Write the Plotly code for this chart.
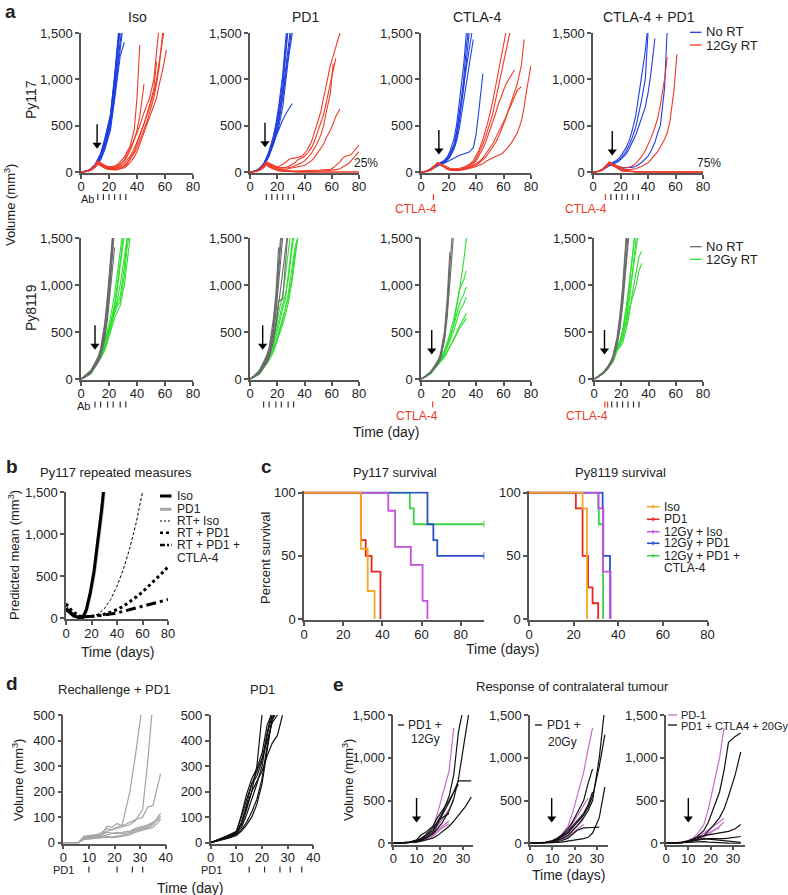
import plotly.graph_objects as go

W, H = 788, 895
FONT = "Liberation Sans, Arial, Helvetica, sans-serif"

# ============================ DATA ============================
# ---- panel a, Py117 (top row) ----
a_days_py117 = [0, 4, 7, 10, 12, 14, 17, 19, 21, 24, 26, 28, 31, 33, 35, 38, 40, 42, 45, 47, 49,
                52, 54, 56, 59, 61, 63, 66, 68, 70, 73, 75, 77, 80]

iso117_noRT = [
    [0, 10, 30, 70, 120, 180, 320, 430, 560, 950, 1300, 1600],
    [0, 12, 35, 80, 140, 200, 360, 480, 620, 1050, 1400, 1700],
    [0, 8, 25, 60, 100, 150, 280, 380, 500, 880, 1180, 1450, 1800],
    [0, 9, 28, 65, 110, 170, 300, 420, 540, 900, 1250, 1550],
    [0, 6, 20, 55, 95, 140, 260, 370, 480, 820, 1100, 1350, 1700],
    [0, 11, 32, 75, 130, 190, 340, 460, 600, 1000, 1350, 1650],
    [0, 7, 22, 50, 90, 130, 240, 340, 450, 780, 1050, 1250, 1400],
    [0, 10, 30, 70, 125, 175, 310, 440, 580, 1000, 1380, 1600],
]
iso117_RT = [
    [0, 8, 30, 70, 110, 90, 70, 55, 55, 65, 80, 110, 160, 220, 280, 450, 800, 1370],
    [0, 6, 25, 60, 100, 85, 60, 50, 45, 50, 60, 80, 120, 170, 230, 350, 450, 600, 950],
    [0, 5, 20, 55, 95, 80, 55, 40, 35, 40, 50, 65, 90, 130, 170, 250, 320, 400, 520, 620, 720, 900, 1190],
    [0, 5, 22, 55, 90, 70, 45, 30, 25, 25, 30, 40, 60, 90, 130, 200, 260, 340, 450, 540, 640, 800, 950, 1150, 1600],
    [0, 4, 18, 50, 85, 65, 40, 30, 25, 22, 25, 30, 45, 70, 100, 160, 220, 300, 420, 520, 600, 700, 800, 950, 1150, 1320],
    [0, 6, 24, 60, 105, 85, 55, 40, 35, 35, 40, 50, 70, 100, 150, 220, 300, 400, 520, 600, 700, 850, 1000, 1200, 1450, 1700],
    [0, 7, 28, 65, 120, 100, 70, 60, 55, 60, 70, 90, 130, 200, 250, 350, 420, 500, 640, 720, 800, 1000, 1250, 1600],
]
pd1117_noRT = [
    [0, 10, 35, 80, 140, 200, 330, 450, 600, 900, 1200, 1550],
    [0, 12, 40, 90, 150, 230, 380, 520, 700, 1050, 1400, 1700],
    [0, 8, 30, 70, 120, 180, 300, 400, 520, 800, 1050, 1300, 1600],
    [0, 9, 33, 75, 130, 190, 320, 430, 560, 850, 1100, 1350, 1700],
    [0, 11, 38, 85, 150, 210, 300, 380, 460, 560, 620, 670, 740],
    [0, 10, 32, 80, 135, 200, 350, 480, 650, 1000, 1300, 1600],
    [0, 7, 28, 65, 115, 170, 290, 380, 480, 700, 950, 1200, 1500, 1700],
]
pd1117_RT = [
    [0, 8, 30, 70, 110, 95, 70, 60, 60, 80, 100, 130, 150, 150, 155, 170, 200, 240, 320, 420, 520, 650, 800, 950, 1150, 1250, 1350, 1500],
    [0, 7, 25, 65, 100, 85, 60, 50, 45, 45, 50, 60, 80, 100, 130, 150, 170, 200, 260, 320, 400, 520, 620, 750, 950, 1100, 1230],
    [0, 6, 22, 60, 95, 80, 55, 45, 40, 40, 40, 45, 55, 65, 80, 100, 120, 150, 200, 250, 300, 400, 500, 650, 850, 1170],
    [0, 6, 20, 55, 90, 70, 45, 35, 30, 30, 30, 35, 40, 45, 50, 60, 70, 90, 120, 150, 190, 250, 300, 370, 450, 520, 600, 680],
    [0, 5, 20, 50, 85, 60, 40, 30, 25, 20, 15, 12, 10, 10, 10, 10, 10, 12, 14, 16, 18, 20, 22, 25, 30, 45, 70, 110, 150, 170, 180, 200, 240, 290],
    [0, 5, 18, 45, 80, 55, 35, 25, 20, 15, 12, 10, 8, 6, 5, 5, 5, 5, 6, 7, 8, 10, 12, 14, 17, 20, 25, 35, 50, 70, 100, 140, 170, 220],
    [0, 5, 20, 50, 80, 55, 35, 20, 12, 8, 5, 3, 2, 1, 0, 0, 0, 0, 0, 0, 0, 0, 0, 0, 0, 0, 0, 0, 0, 0, 0, 0, 0, 0],
    [0, 6, 25, 55, 95, 70, 45, 30, 20, 12, 8, 5, 3, 2, 1, 1, 0, 0, 0, 0, 0, 0, 0, 0, 0, 0, 0, 0, 0, 0, 0, 0, 0, 0],
]
ctla117_noRT = [
    [0, 8, 30, 60, 80, 90, 110, 140, 180, 280, 420, 620, 1000, 1350, 1600],
    [0, 6, 25, 55, 75, 85, 100, 125, 160, 250, 370, 560, 900, 1200, 1500],
    [0, 10, 35, 70, 90, 100, 120, 150, 200, 300, 450, 650, 950, 1150, 1350, 1600],
    [0, 7, 28, 60, 85, 95, 115, 140, 170, 250, 340, 480, 760, 950, 1150, 1430],
    [0, 5, 22, 50, 70, 80, 95, 110, 130, 150, 165, 180, 195, 205, 215, 260, 400, 650, 1060],
    [0, 9, 32, 65, 88, 100, 125, 160, 220, 360, 520, 750, 1150, 1500],
]
ctla117_RT = [
    [0, 8, 30, 70, 100, 90, 70, 50, 40, 35, 35, 40, 50, 65, 80, 120, 170, 230, 350, 450, 560, 750, 900, 1050, 1300, 1450, 1600],
    [0, 7, 25, 60, 95, 85, 60, 40, 30, 25, 25, 30, 40, 55, 70, 100, 140, 200, 300, 380, 470, 620, 760, 900, 1100, 1250, 1400, 1600],
    [0, 6, 22, 55, 90, 80, 55, 35, 25, 20, 20, 25, 35, 45, 60, 90, 120, 170, 250, 320, 400, 520, 620, 720, 850, 920, 980, 1050, 1100],
    [0, 5, 20, 50, 85, 75, 50, 30, 20, 15, 15, 18, 25, 35, 45, 60, 75, 95, 130, 160, 200, 260, 310, 370, 470, 550, 640, 780, 880, 950, 1150, 1430],
    [0, 6, 22, 55, 90, 80, 55, 35, 25, 20, 18, 20, 25, 30, 40, 50, 60, 70, 90, 110, 130, 150, 165, 175, 200, 230, 260, 320, 370, 420, 550, 700, 900, 1150],
    [0, 7, 25, 60, 95, 85, 60, 40, 30, 25, 22, 25, 30, 40, 50, 70, 90, 110, 150, 190, 240, 300, 360, 420, 500, 570, 640, 740, 820, 880, 920],
]
combo117_noRT = [
    [0, 8, 30, 60, 80, 90, 110, 130, 160, 220, 280, 350, 480, 600, 750, 1000, 1500],
    [0, 7, 25, 55, 75, 85, 100, 120, 145, 190, 240, 300, 400, 480, 560, 700, 850, 1050, 1440],
    [0, 6, 22, 50, 70, 70, 60, 55, 50, 45, 45, 50, 60, 80, 100, 140, 170, 220, 320, 420, 500, 900, 1550],
    [0, 8, 30, 65, 85, 80, 70, 55, 40, 20, 10, 5, 2, 0, 0, 0, 0, 0],
    [0, 9, 32, 62, 85, 100, 125, 150, 190, 260, 330, 420, 600, 780, 1000, 1300, 1600],
]
combo117_RT = [
    [0, 8, 30, 70, 100, 90, 70, 55, 45, 45, 50, 60, 90, 120, 160, 230, 290, 360, 480, 580, 720, 1000, 1240],
    [0, 7, 25, 60, 95, 80, 55, 40, 30, 25, 25, 28, 35, 45, 60, 80, 100, 130, 180, 220, 270, 350, 420, 550, 900, 1270],
    [0, 8, 30, 75, 110, 90, 60, 30, 15, 8, 5, 3, 2, 1, 0, 0, 0, 0, 0, 0, 0, 0, 0, 0, 0, 0, 0, 0, 0, 0, 0, 0, 0, 0],
    [0, 6, 25, 60, 95, 75, 50, 25, 12, 6, 4, 2, 1, 1, 0, 0, 0, 0, 0, 0, 0, 0, 0, 0, 0, 0, 0, 0, 0, 0, 0, 0, 0, 0],
    [0, 7, 28, 70, 105, 85, 65, 40, 25, 15, 10, 6, 4, 2, 1, 0, 0, 0, 0, 0, 0, 0, 0, 0, 0, 0, 0, 0, 0, 0, 0, 0, 0, 0],
    [0, 5, 20, 55, 85, 70, 45, 30, 18, 10, 6, 4, 3, 2, 1, 1, 0, 0, 0, 0, 0, 0, 0, 0, 0, 0, 0, 0, 0, 0, 0, 0, 0, 0],
]

# ---- panel a, Py8119 (bottom row) ----
a_days_py8119 = [0, 3, 7, 10, 12, 14, 17, 19, 21, 24, 26, 28, 31, 33, 35]
iso8119_noRT = [
    [0, 30, 80, 150, 200, 270, 500, 750, 1100, 1700],
    [0, 25, 70, 130, 180, 250, 480, 700, 1050, 1600],
    [0, 35, 90, 170, 230, 320, 600, 900, 1300, 1800],
    [0, 20, 60, 120, 170, 230, 430, 650, 950, 1400],
    [0, 30, 85, 160, 220, 300, 560, 850, 1250, 1750],
    [0, 28, 75, 140, 190, 260, 470, 720, 1080, 1650],
]
iso8119_RT = [
    [0, 30, 80, 170, 220, 280, 400, 520, 650, 900, 1100, 1350, 1700],
    [0, 25, 70, 150, 200, 260, 360, 460, 580, 800, 1000, 1250, 1600],
    [0, 20, 60, 130, 180, 230, 320, 420, 530, 700, 780, 820, 1100, 1400, 1600],
    [0, 28, 75, 160, 210, 270, 380, 480, 600, 750, 800, 880, 1200, 1500],
    [0, 22, 65, 140, 190, 240, 340, 440, 560, 760, 950, 1200, 1550],
    [0, 26, 72, 155, 205, 250, 350, 450, 560, 720, 850, 1000, 1300, 1500],
    [0, 18, 55, 120, 170, 220, 300, 390, 500, 650, 720, 780, 1000, 1250, 1500],
]
pd18119_noRT = [
    [0, 30, 80, 160, 220, 300, 550, 850, 1250, 1800],
    [0, 25, 70, 140, 190, 270, 480, 700, 1000, 1500],
    [0, 35, 95, 180, 240, 330, 620, 900, 1400],
    [0, 22, 65, 130, 180, 250, 430, 600, 830, 850, 1200, 1600],
    [0, 28, 78, 150, 200, 280, 500, 760, 1100, 1700],
    [0, 20, 55, 120, 160, 220, 380, 560, 780, 1100, 1350, 1600],
]
pd18119_RT = [
    [0, 25, 70, 150, 200, 250, 350, 450, 560, 750, 850, 1100, 1450, 1700],
    [0, 20, 60, 130, 170, 220, 300, 380, 470, 620, 750, 900, 1200, 1400, 1500],
    [0, 28, 80, 160, 210, 270, 380, 500, 640, 800, 900, 1050, 1400, 1600],
    [0, 22, 65, 140, 180, 230, 320, 400, 500, 650, 740, 850, 1100, 1350, 1480],
    [0, 30, 85, 170, 230, 300, 420, 540, 700, 900, 1100, 1400, 1700],
    [0, 18, 55, 120, 160, 200, 280, 360, 450, 580, 680, 800, 1050, 1300, 1500],
]
ctla8119_noRT = [
    [0, 25, 70, 120, 170, 230, 450, 750, 1200, 1800],
    [0, 20, 60, 110, 155, 210, 400, 650, 1050, 1600],
    [0, 30, 80, 140, 190, 260, 500, 850, 1350],
    [0, 22, 65, 115, 160, 220, 420, 700, 1230],
]
ctla8119_RT = [
    [0, 25, 70, 130, 170, 220, 300, 380, 480, 650, 800, 950, 1250, 1500],
    [0, 20, 60, 120, 160, 200, 280, 350, 430, 600, 800, 950, 1050, 1150],
    [0, 22, 65, 125, 165, 210, 290, 360, 440, 580, 700, 800, 900, 980],
    [0, 18, 55, 110, 150, 190, 260, 330, 400, 520, 620, 720, 800, 870],
    [0, 20, 58, 115, 150, 180, 230, 280, 340, 430, 500, 560, 640, 700],
    [0, 24, 68, 128, 160, 190, 240, 290, 350, 420, 480, 540, 600, 650],
]
combo8119_noRT = [
    [0, 25, 70, 120, 170, 240, 420, 620, 900, 1500],
    [0, 22, 65, 110, 160, 220, 380, 560, 820, 1400, 1700],
    [0, 28, 75, 130, 180, 250, 450, 680, 980, 1600],
    [0, 20, 60, 105, 150, 210, 360, 530, 780, 1300, 1600],
]
combo8119_RT = [
    [0, 25, 70, 130, 160, 200, 330, 380, 480, 750, 1000, 1300, 1700],
    [0, 22, 65, 120, 150, 190, 320, 360, 420, 650, 850, 1100, 1500],
    [0, 28, 75, 140, 170, 210, 350, 400, 520, 800, 1050, 1350, 1650],
    [0, 20, 60, 110, 140, 180, 300, 340, 380, 550, 700, 900, 1150, 1300, 1360],
    [0, 24, 68, 125, 155, 195, 330, 370, 450, 600, 750, 850, 1000, 1150, 1230],
    [0, 26, 72, 135, 165, 205, 340, 390, 500, 700, 900, 1150, 1450, 1600],
]

# treatment schedules (days)
rt_day_py117 = [11.5, 11, 13, 14]
rt_day_py8119 = [10, 9.3, 7.8, 7.7]
ab_days_py117 = [12, 16, 20, 24, 28, 32]
ab_days_combo117 = [13, 17, 21, 25, 29, 33]
ctla_day_py117 = [9]
ab_days_py8119 = [10, 14, 19, 23, 28, 32]
ab_days_combo8119 = [13, 17, 21, 25, 29, 33]
ctla_days_py8119 = [8.5]
ctla_days_combo8119 = [8, 10]
pct_free_pd1 = "25%"
pct_free_combo = "75%"

# ---- panel b: predicted means ----
b_days_early = [0, 3, 6, 10, 13, 16, 19, 22, 25, 28, 30]
b_iso = [100, 60, 25, 5, 0, 100, 300, 560, 900, 1300, 1600]
b_pd1 = [120, 70, 30, 8, 0, 90, 280, 530, 860, 1250, 1550]
b_days_rt = [0, 5, 10, 15, 20, 25, 30, 35, 40, 45, 50, 55, 60, 65, 70, 75, 80]
b_rt_iso = [150, 60, 15, 5, 15, 45, 110, 220, 380, 580, 830, 1130, 1500]
b_rt_pd1 = [170, 80, 25, 15, 20, 30, 45, 70, 100, 140, 190, 250, 310, 380, 450, 530, 610]
b_rt_pd1_ctla4 = [110, 50, 15, 15, 20, 25, 35, 45, 60, 80, 100, 120, 140, 160, 180, 200, 220]

# ---- panel c: survival (step curves) ----
c117_iso_t = [0, 29, 32.5, 36];               c117_iso_s = [100, 55.6, 22.2, 0]
c117_pd1_t = [0, 29, 31.5, 34.5, 39];         c117_pd1_s = [100, 62.5, 50, 37.5, 0]
c117_rtiso_t = [0, 43, 46.5, 54.5, 60.5, 63]; c117_rtiso_s = [100, 85.7, 57.1, 42.9, 14.3, 0]
c117_rtpd1_t = [0, 63, 66, 68, 92];           c117_rtpd1_s = [100, 75, 62.5, 50, 50]
c117_rtpc_t = [0, 54, 56, 92];                c117_rtpc_s = [100, 87.5, 75, 75]
c8119_iso_t = [0, 24, 26];                    c8119_iso_s = [100, 87.5, 0]
c8119_pd1_t = [0, 21, 24, 26.5, 28.5, 31];    c8119_pd1_s = [100, 87.5, 50, 25, 12.5, 0]
c8119_rtiso_t = [0, 31.2, 33.2, 36.3];        c8119_rtiso_s = [100, 87.5, 37.5, 0]
c8119_rtpd1_t = [0, 33, 33.3, 36.3, 36.5];    c8119_rtpd1_s = [100, 87.5, 50, 37.5, 0]
c8119_rtpc_t = [0, 31, 31.3, 33.2];           c8119_rtpc_s = [100, 87.5, 75, 0]
c_legend = ["Iso", "PD1", "12Gy + Iso", "12Gy + PD1", "12Gy + PD1 +"]

# ---- panel d ----
d_days_rech = [0, 6, 8, 10, 13, 15, 17, 19, 21, 23, 26, 28, 31, 33, 35, 38]
d_rechallenge = [
    [0, 0, 20, 25, 30, 40, 55, 50, 60, 70, 200, 330, 550],
    [0, 0, 25, 28, 30, 35, 45, 50, 55, 60, 70, 85, 130, 320, 550],
    [0, 0, 22, 25, 28, 30, 65, 60, 75, 65, 80, 90, 100, 140, 145, 270],
    [0, 0, 18, 20, 22, 25, 30, 35, 40, 35, 40, 50, 60, 65, 75, 115],
    [0, 0, 15, 18, 20, 20, 25, 22, 25, 30, 35, 45, 55, 60, 70, 105],
    [0, 0, 20, 22, 25, 30, 40, 38, 35, 40, 45, 55, 65, 70, 80, 95],
    [0, 0, 12, 15, 18, 20, 22, 20, 22, 25, 30, 40, 50, 55, 60, 90],
]
d_days_pd1 = [0, 3, 7, 10, 12, 14, 16, 18, 20, 22, 24, 26, 28]
d_pd1 = [
    [0, 10, 25, 40, 70, 130, 200, 300, 500],
    [0, 12, 30, 45, 100, 170, 230, 260, 320, 430, 520],
    [0, 8, 20, 35, 60, 110, 170, 230, 300, 420, 500],
    [0, 10, 22, 30, 50, 80, 120, 170, 250, 380, 480, 520],
    [0, 9, 24, 38, 80, 140, 200, 240, 280, 340, 390, 420, 500],
    [0, 11, 28, 42, 110, 190, 250, 290, 350, 460, 510],
    [0, 7, 18, 28, 45, 70, 100, 150, 230, 360, 490, 520],
    [0, 10, 26, 40, 75, 150, 230, 280, 330, 400, 470, 500],
]
d_pd1_dose_rech = [10, 21, 27, 31]
d_pd1_dose_pd1 = [15, 21, 27, 31, 35.5]

# ---- panel e ----
e_days = [0, 3, 7, 10, 12, 14, 17, 19, 21, 24, 26, 28, 31, 33.5]
e1_treated = [
    [0, 5, 15, 30, 50, 90, 150, 250, 350, 550, 800, 1300, 1700],
    [0, 3, 10, 20, 35, 60, 110, 170, 240, 380, 520, 750, 1350, 1700],
    [0, 4, 12, 40, 100, 130, 200, 300, 380, 500, 600, 730, 730, 730],
    [0, 2, 8, 15, 25, 40, 60, 90, 130, 200, 260, 330, 430, 540],
    [0, 3, 12, 25, 45, 70, 130, 220, 330, 480, 600, 690],
    [0, 4, 15, 35, 60, 100, 180, 250, 300, 350],
]
e1_pd1 = [
    [0, 5, 15, 30, 50, 80, 180, 350, 550, 850, 1350],
    [0, 4, 12, 25, 40, 60, 120, 200, 280, 400, 500],
    [0, 3, 10, 20, 30, 45, 90, 150, 200, 260],
    [0, 3, 8, 18, 28, 40, 80, 130, 180, 230],
]
e2_treated = [
    [0, 2, 8, 18, 30, 50, 90, 140, 200, 300, 380, 500, 1000, 1600],
    [0, 3, 10, 22, 40, 70, 120, 180, 240, 330, 420, 550, 900, 1270],
    [0, 2, 6, 12, 20, 30, 60, 100, 150, 180, 180, 185, 190],
    [0, 4, 12, 30, 55, 90, 170, 250, 350, 500, 700, 870],
    [0, 1, 3, 6, 10, 15, 25, 35, 45, 55, 70, 120, 300, 660],
    [0, 3, 10, 25, 45, 80, 140, 200, 260, 350, 450, 600],
]
e2_pd1 = [
    [0, 5, 15, 35, 60, 100, 200, 350, 550, 830, 1100, 1350],
    [0, 4, 12, 28, 45, 70, 140, 230, 320, 450, 530],
    [0, 3, 10, 22, 35, 55, 100, 150, 200, 280],
    [0, 3, 8, 18, 28, 40, 80, 120, 160, 220],
]
e3_treated = [
    [0, 3, 10, 25, 45, 80, 150, 250, 400, 600, 850, 1180, 1250, 1290],
    [0, 2, 8, 18, 30, 50, 90, 140, 200, 300, 400, 550, 800, 1070],
    [0, 3, 10, 30, 50, 70, 90, 100, 110, 120, 130, 140, 170, 220],
    [0, 2, 8, 20, 30, 40, 50, 55, 55, 50, 55, 60, 70, 80],
    [0, 2, 8, 20, 35, 45, 55, 50, 45, 35, 25, 20, 15, 10],
    [0, 1, 5, 10, 15, 18, 20, 15, 10, 8, 5, 3, 2, 1],
]
e3_pd1 = [
    [0, 5, 15, 35, 60, 110, 220, 400, 650, 1000, 1350],
    [0, 4, 12, 28, 45, 70, 120, 160, 200, 260, 290],
    [0, 3, 10, 22, 35, 55, 90, 120, 150, 180],
    [0, 3, 8, 18, 28, 40, 70, 100, 140, 200, 250],
]
e_rt_day = [10, 9.7, 10]

# ============================ STYLE ============================
BLUE = "#1f3fe0"
RED = "#f03a26"
GRAY = "#6a6a6a"
GREEN = "#2fe02f"
C_OR, C_RD, C_MG, C_BL, C_GN = "#f5a623", "#e8281e", "#c64fe0", "#2a52cc", "#3fcf4a"
E_MAG = "#c96cc9"
AX = "#555555"
TXT = "#222222"

fig = go.Figure()
layout = {}
annotations = []
shapes = []
axinfo = {}


def xa(k):
    return "x" if k == 1 else f"x{k}"


def ya(k):
    return "y" if k == 1 else f"y{k}"


def add_group(k, days, groups, color, width=1.1, dash=None):
    for vals in groups:
        fig.add_trace(go.Scatter(x=days[:len(vals)], y=vals, mode="lines",
                                 line=dict(color=color, width=width, dash=dash),
                                 xaxis=xa(k), yaxis=ya(k), showlegend=False, hoverinfo="skip"))


def set_axes(k, xpx, xrange, xtick, ypx, yrange, ytick, yfmt=""):
    common = dict(showline=True, linecolor=AX, linewidth=1.5, ticks="outside", ticklen=4,
                  tickwidth=1.5, tickcolor=AX, showgrid=False, zeroline=False, automargin=False,
                  tickfont=dict(family=FONT, size=13, color=TXT), fixedrange=True)
    layout["xaxis" if k == 1 else f"xaxis{k}"] = dict(
        domain=[xpx[0] / W, xpx[1] / W], range=xrange, tickvals=xtick, anchor=ya(k),
        ticklabelstandoff=-3, **common)
    layout["yaxis" if k == 1 else f"yaxis{k}"] = dict(
        domain=[1 - ypx[1] / H, 1 - ypx[0] / H], range=yrange, tickvals=ytick, anchor=xa(k),
        tickformat=yfmt, **common)
    axinfo[k] = (yrange[1] - yrange[0]) / (ypx[1] - ypx[0])  # data units per pixel (y)


def txt(x, y, s, size=13, color=TXT, xanchor="center", angle=0, bold=False):
    if bold:
        s = f"<b>{s}</b>"
    annotations.append(dict(x=x / W, y=1 - y / H, xref="paper", yref="paper", text=s,
                            showarrow=False, xanchor=xanchor, yanchor="middle", textangle=angle,
                            font=dict(family=FONT, size=size, color=color)))


def pline(x0, y0, x1, y1, color, width=1.5, dash=None):
    shapes.append(dict(type="line", xref="paper", yref="paper", x0=x0 / W, x1=x1 / W,
                       y0=1 - y0 / H, y1=1 - y1 / H, line=dict(color=color, width=width, dash=dash)))


def dose_ticks(k, days, ytop, color="#333", width=1.2):
    for d in days:
        shapes.append(dict(type="line", xref=xa(k), yref="paper", x0=d, x1=d,
                           y0=1 - ytop / H, y1=1 - (ytop + 6) / H, line=dict(color=color, width=width)))


def arrow(k, day, tip):
    u = axinfo[k]
    fig.add_trace(go.Scatter(x=[day, day], y=[tip + 24 * u, tip + 5 * u], mode="lines",
                             line=dict(color="black", width=1.4), xaxis=xa(k), yaxis=ya(k),
                             showlegend=False, hoverinfo="skip"))
    fig.add_trace(go.Scatter(x=[day], y=[tip + 3.5 * u], mode="markers",
                             marker=dict(symbol="triangle-down", size=8, color="black"),
                             xaxis=xa(k), yaxis=ya(k), showlegend=False, hoverinfo="skip"))


# ============================ PANEL a ============================
top_x = [(81, 193), (250, 359), (421, 531), (593, 703)]
bot_x = [(81, 193), (250, 359), (421, 531), (594, 703)]
TOP_Y = (33, 173.1)
BOT_Y = (238, 380.1)
yt_a = [0, 500, 1000, 1500]
xt_a = [0, 20, 40, 60, 80]

top_groups = [(iso117_noRT, iso117_RT), (pd1117_noRT, pd1117_RT),
              (ctla117_noRT, ctla117_RT), (combo117_noRT, combo117_RT)]
bot_groups = [(iso8119_noRT, iso8119_RT), (pd18119_noRT, pd18119_RT),
              (ctla8119_noRT, ctla8119_RT), (combo8119_noRT, combo8119_RT)]
top_tips = [256, 273, 194, 183]
bot_tips = [316, 316, 266, 266]

for i in range(4):
    k = i + 1
    set_axes(k, top_x[i], [0, 80], xt_a, TOP_Y, [-12, 1500], yt_a, ",")
    add_group(k, a_days_py117, top_groups[i][0], BLUE)
    add_group(k, a_days_py117, top_groups[i][1], RED)
    arrow(k, rt_day_py117[i], top_tips[i])

    k = i + 5
    set_axes(k, bot_x[i], [0, 80], xt_a, BOT_Y, [-12, 1500], yt_a, ",")
    add_group(k, a_days_py8119, bot_groups[i][1], GREEN)
    add_group(k, a_days_py8119, bot_groups[i][0], GRAY)
    arrow(k, rt_day_py8119[i], bot_tips[i])

titles_a = ["Iso", "PD1", "CTLA-4", "CTLA-4 + PD1"]
for i, t in enumerate(titles_a):
    txt((top_x[i][0] + top_x[i][1]) / 2 + 0.5, 17, t, size=14)

# dosing ticks
dose_ticks(1, ab_days_py117, 194)
dose_ticks(2, ab_days_py117, 194)
dose_ticks(3, ctla_day_py117, 194, color=RED)
dose_ticks(4, ctla_day_py117, 194, color=RED)
dose_ticks(4, ab_days_combo117, 194)
dose_ticks(5, ab_days_py8119, 401.5)
dose_ticks(6, ab_days_py8119, 401.5)
dose_ticks(7, ctla_days_py8119, 401.5, color=RED)
dose_ticks(8, ctla_days_combo8119, 401.5, color=RED)
dose_ticks(8, ab_days_combo8119, 401.5)
txt(87, 198.5, "Ab", size=11)
txt(83, 406, "Ab", size=11)
txt(416, 209, "CTLA-4", size=12, color=RED)
txt(586, 209, "CTLA-4", size=12, color=RED)
txt(417, 416, "CTLA-4", size=12, color=RED)
txt(587, 416, "CTLA-4", size=12, color=RED)
txt(366, 163, pct_free_pd1, size=12)
txt(709, 163, pct_free_combo, size=12)

# row labels
txt(31, 100, "Py117", size=14, angle=-90)
txt(31, 308, "Py8119", size=14, angle=-90)
txt(10, 205, "Volume (mm<sup>3</sup>)", size=13, angle=-90)
txt(386, 432, "Time (day)", size=14)

# legends a
pline(690, 32.3, 701.5, 32.3, BLUE, 1.3)
pline(690, 45, 701.5, 45, RED, 1.3)
txt(704, 31.7, "No RT", size=13, xanchor="left")
txt(704, 45, "12Gy RT", size=13, xanchor="left")
pline(690, 246.7, 701.5, 246.7, GRAY, 1.3)
pline(690, 259.3, 701.5, 259.3, GREEN, 1.3)
txt(704, 246.7, "No RT", size=13, xanchor="left")
txt(704, 259.3, "12Gy RT", size=13, xanchor="left")

# ============================ PANEL b ============================
set_axes(9, (66, 168), [0, 80], xt_a, (492, 619.3), [-15, 1500], yt_a, ",")
fig.add_trace(go.Scatter(x=b_days_early, y=b_pd1, mode="lines", line=dict(color="#a8a8a8", width=3.5),
                         xaxis="x9", yaxis="y9", showlegend=False, hoverinfo="skip"))
fig.add_trace(go.Scatter(x=b_days_early, y=b_iso, mode="lines", line=dict(color="black", width=3),
                         xaxis="x9", yaxis="y9", showlegend=False, hoverinfo="skip"))
fig.add_trace(go.Scatter(x=b_days_rt[:len(b_rt_iso)], y=b_rt_iso, mode="lines",
                         line=dict(color="black", width=1, dash="3px,2px"),
                         xaxis="x9", yaxis="y9", showlegend=False, hoverinfo="skip"))
fig.add_trace(go.Scatter(x=b_days_rt, y=b_rt_pd1, mode="lines", line=dict(color="black", width=3, dash="dot"),
                         xaxis="x9", yaxis="y9", showlegend=False, hoverinfo="skip"))
fig.add_trace(go.Scatter(x=b_days_rt, y=b_rt_pd1_ctla4, mode="lines",
                         line=dict(color="black", width=3, dash="10px,4px,3px,4px"),
                         xaxis="x9", yaxis="y9", showlegend=False, hoverinfo="skip"))
txt(116, 472, "Py117 repeated measures", size=13)
txt(14, 555, "Predicted mean (mm<sup>3</sup>)", size=13, angle=-90)
txt(117, 652, "Time (days)", size=14)
pline(160, 496, 171.5, 496, "black", 3)
pline(160, 509.3, 171.5, 509.3, "#a8a8a8", 3)
pline(160, 521, 171.5, 521, "black", 1, "2px,2px")
pline(160, 532.7, 171.5, 532.7, "black", 2.5, "dot")
pline(160, 545, 171.5, 545, "black", 2.5, "5px,2px,2px,2px")
b_labels = ["Iso", "PD1", "RT+ Iso", "RT + PD1", "RT + PD1 +", "CTLA-4"]
for lab, yy in zip(b_labels, [496, 509.3, 521, 532.7, 545, 558.3]):
    txt(175, yy, lab, size=12, xanchor="left")

# ============================ PANEL c ============================
set_axes(10, (304, 484.3), [0, 92], [0, 20, 40, 60, 80], (491.4, 620.3), [-1, 101], [0, 50, 100])
set_axes(11, (529, 707.5), [0, 80], [0, 20, 40, 60, 80], (491.4, 620.3), [-1, 101], [0, 50, 100])


def km(k, t, s, color, censor=False):
    fig.add_trace(go.Scatter(x=t, y=s, mode="lines", line=dict(color=color, width=1.8, shape="hv"),
                             xaxis=xa(k), yaxis=ya(k), showlegend=False, hoverinfo="skip"))
    if censor:
        fig.add_trace(go.Scatter(x=[t[-1]], y=[s[-1]], mode="markers",
                                 marker=dict(symbol="line-ns", size=5, line=dict(color=color, width=1.5)),
                                 xaxis=xa(k), yaxis=ya(k), showlegend=False, hoverinfo="skip"))


km(10, c117_rtpc_t, c117_rtpc_s, C_GN, True)
km(10, c117_rtpd1_t, c117_rtpd1_s, C_BL, True)
km(10, c117_rtiso_t, c117_rtiso_s, C_MG)
km(10, c117_pd1_t, c117_pd1_s, C_RD)
km(10, c117_iso_t, c117_iso_s, C_OR)
km(11, c8119_rtpc_t, c8119_rtpc_s, C_GN)
km(11, c8119_rtpd1_t, c8119_rtpd1_s, C_BL)
km(11, c8119_rtiso_t, c8119_rtiso_s, C_MG)
km(11, c8119_pd1_t, c8119_pd1_s, C_RD)
km(11, c8119_iso_t, c8119_iso_s, C_OR)
txt(395, 472, "Py117 survival", size=13)
txt(620, 472, "Py8119 survival", size=13)
txt(265, 558, "Percent survival", size=13, angle=-90)
txt(502, 649, "Time (days)", size=14)
for col, lab, yy in zip([C_OR, C_RD, C_MG, C_BL, C_GN], c_legend, [506.7, 519.3, 531.7, 543.3, 555.7]):
    pline(647, yy, 659.5, yy, col, 1.6)
    pline(653.2, yy - 2, 653.2, yy + 2, col, 1.2)
    txt(662, yy, lab, size=12, xanchor="left")
txt(662, 568.3, "CTLA-4", size=12, xanchor="left")

# ============================ PANEL d ============================
set_axes(12, (63.3, 165.7), [0, 40], [0, 10, 20, 30, 40], (715, 843.7), [-4, 500], [0, 100, 200, 300, 400, 500])
set_axes(13, (210.7, 313.3), [0, 40], [0, 10, 20, 30, 40], (715, 843.7), [-4, 500], [0, 100, 200, 300, 400, 500])
add_group(12, d_days_rech, d_rechallenge, "#a3a3a3", 1.2)
add_group(13, d_days_pd1, d_pd1, "#111111", 1.2)
txt(114, 689, "Rechallenge + PD1", size=13)
txt(262, 689, "PD1", size=13)
txt(18, 780, "Volume (mm<sup>3</sup>)", size=13, angle=-90)
txt(190, 888, "Time (day)", size=14)
txt(63, 869.5, "PD1", size=11)
txt(211, 869.5, "PD1", size=11)
dose_ticks(12, d_pd1_dose_rech, 866.5)
dose_ticks(13, d_pd1_dose_pd1, 866.5)

# ============================ PANEL e ============================
e_y = (715, 844.6)
e_yt = [0, 500, 1000, 1500]
set_axes(14, (393.3, 473.3), [0, 34.4], [0, 10, 20, 30], e_y, [-15, 1500], e_yt, ",")
set_axes(15, (530, 608), [0, 34.9], [0, 10, 20, 30], e_y, [-15, 1500], e_yt, ",")
set_axes(16, (666, 745), [0, 35.4], [0, 10, 20, 30], e_y, [-15, 1500], e_yt, ",")
for k, trt, ctl in [(14, e1_treated, e1_pd1), (15, e2_treated, e2_pd1), (16, e3_treated, e3_pd1)]:
    add_group(k, e_days, ctl, E_MAG, 1.2)
    add_group(k, e_days, trt, "#111111", 1.2)
    arrow(k, e_rt_day[k - 14], 249)
txt(572, 686, "Response of contralateral tumour", size=13)
txt(348, 780, "Volume (mm<sup>3</sup>)", size=13, angle=-90)
txt(568, 875, "Time (days)", size=14)
pline(398, 725, 404, 725, "#111", 1.3)
txt(406, 725, "PD1 +", size=12, xanchor="left")
txt(409, 738.5, "12Gy", size=12, xanchor="left")
pline(535, 725, 542, 725, "#111", 1.3)
txt(545, 725, "PD1 +", size=12, xanchor="left")
txt(546, 741.7, "20Gy", size=12, xanchor="left")
pline(668, 715, 677, 715, E_MAG, 1.3)
pline(668, 725, 677, 725, "#111", 1.3)
txt(679, 715, "PD-1", size=11, xanchor="left")
txt(679, 726, "PD1 + CTLA4 + 20Gy", size=11, xanchor="left")

# panel letters
txt(3, 12, "a", size=19, bold=True, xanchor="left")
txt(4, 467, "b", size=19, bold=True, xanchor="left")
txt(259, 466, "c", size=19, bold=True, xanchor="left")
txt(4, 683, "d", size=19, bold=True, xanchor="left")
txt(331, 684, "e", size=19, bold=True, xanchor="left")

fig.update_layout(template="none", width=W, height=H, margin=dict(l=0, r=0, t=0, b=0, pad=0),
                  paper_bgcolor="white", plot_bgcolor="white", showlegend=False,
                  annotations=annotations, shapes=shapes, **layout)
fig.write_html("out.html", config={"displayModeBar": False, "staticPlot": False},
               post_script="document.body.style.margin='0';document.body.style.padding='0';"
                           "document.documentElement.style.overflow='hidden';")
